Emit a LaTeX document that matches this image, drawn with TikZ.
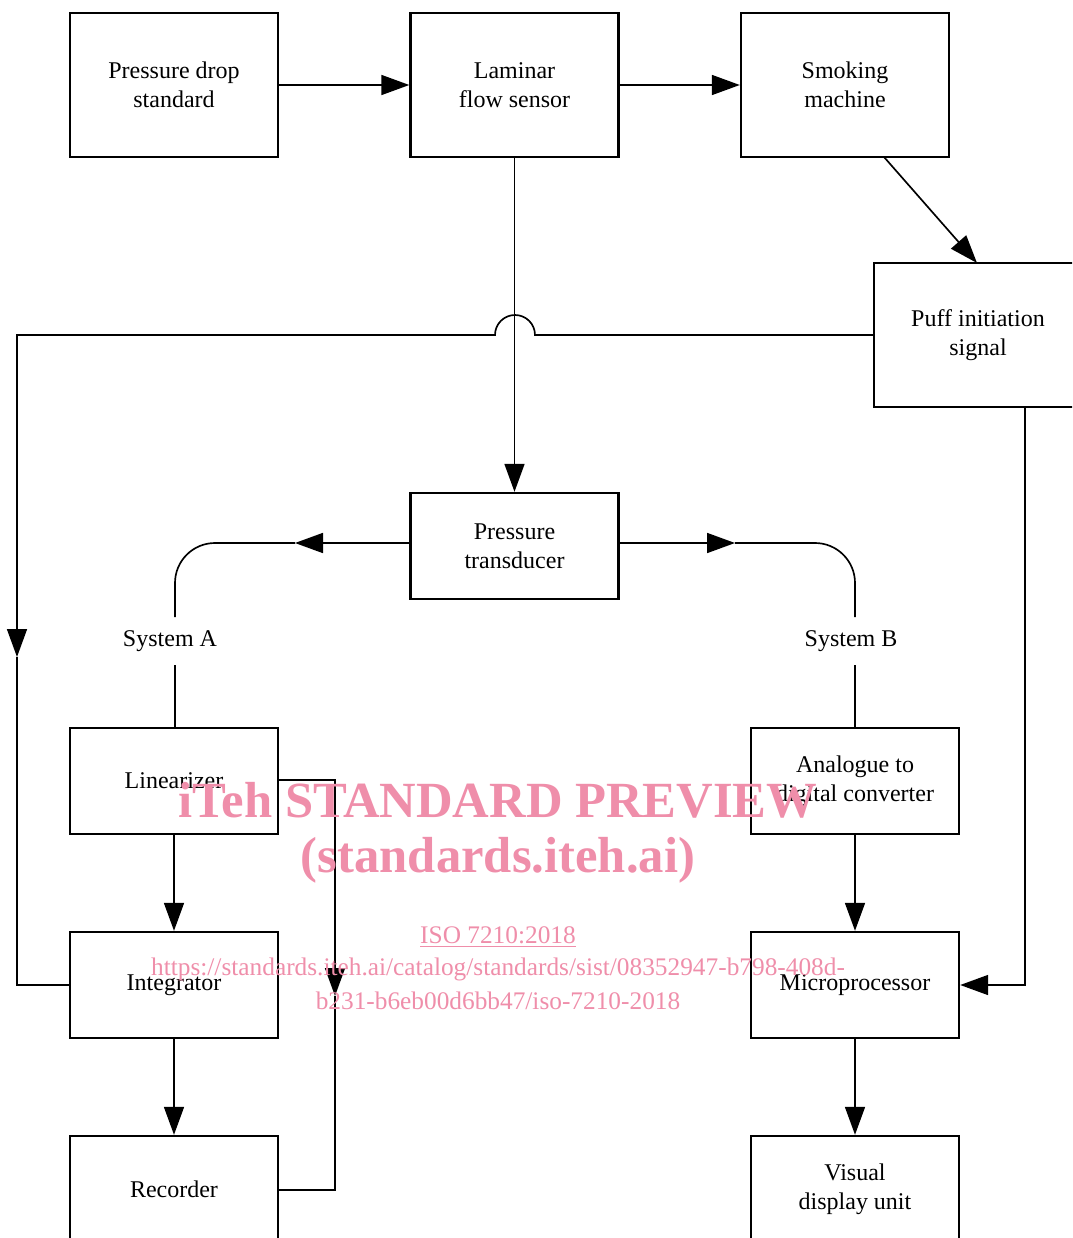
\documentclass[tikz,border=0pt]{standalone}
\usepackage{fontspec}
\setmainfont{Liberation Serif}
\usetikzlibrary{arrows.meta}
\definecolor{wm}{RGB}{239,142,170}
\tikzset{
  box/.style={draw, line width=1.8pt, minimum width=156pt, inner sep=0pt, align=center,
    font=\fontsize{18}{21.75}\selectfont},
  tall/.style={minimum height=108pt},
  short/.style={minimum height=79.5pt},
  conn/.style={line width=1.25pt},
  arr/.style={conn, -{Triangle[length=21pt,width=15pt]}},
  lbl/.style={font=\fontsize{18}{21.75}\selectfont, inner sep=0pt, minimum height=36pt},
  wmbig/.style={text=wm, font=\fontsize{38}{44}\bfseries\selectfont, inner sep=0pt},
  wmsmall/.style={text=wm, font=\fontsize{19}{24}\selectfont, inner sep=0pt}
}
\begin{document}
\begin{tikzpicture}[x=0.75pt,y=-0.75pt]
\useasboundingbox (0,0) rectangle (1072,1238);
\clip (0,0) rectangle (1072,1238);
% boxes
\node[box,tall] (pds) at (174,85) {Pressure drop\\standard};
\node[box,tall] (lfs) at (514.5,85) {Laminar\\flow sensor};
\node[box,tall] (sm) at (845,85) {Smoking\\machine};
\node[box,tall] (puff) at (978,335) {Puff initiation\\signal};
\node[box,short] (pt) at (514.5,546) {Pressure\\transducer};
\node[box,short] (lin) at (174,781) {Linearizer};
\node[box,short] (adc) at (855,781) {Analogue to\\digital converter};
\node[box,short] (integ) at (174,985) {Integrator};
\node[box,short] (micro) at (855,985) {Microprocessor};
\node[box,short] (rec) at (174,1189) {Recorder};
\node[box,short] (vdu) at (855,1189) {Visual\\display unit};
\node[lbl] (sysA) at (170,641) {System A};
\node[lbl] (sysB) at (851,641) {System B};
% connectors
\draw[arr] (pds.east) -- (lfs.west);
\draw[arr] (lfs.east) -- (sm.west);
\draw[arr] (884,157) -- (977,263);
\draw[arr] (lfs.south) -- (pt.north);
% puff -> integrator with hop
\draw[conn] (puff.west) -- (535,335) arc[start angle=0,end angle=180,radius=15pt] -- (17,335) -- (17,630);
\draw[arr] (17,600) -- (17,657);
\draw[conn] (17,657) -- (17,985) -- (integ.west);
% system A
\draw[arr] (pt.west |- 0,543) -- (295,543);
\draw[conn, rounded corners=30pt] (295,543) -- (175,543) -- (175,617);
\draw[conn] (175,665) -- (lin.north -| 175,0);
% system B
\draw[arr] (pt.east |- 0,543) -- (735,543);
\draw[conn, rounded corners=30pt] (735,543) -- (855,543) -- (855,617);
\draw[conn] (855,665) -- (adc.north);
% vertical chains
\draw[arr] (lin.south) -- (integ.north);
\draw[arr] (integ.south) -- (rec.north);
\draw[arr] (adc.south) -- (micro.north);
\draw[arr] (micro.south) -- (vdu.north);
% puff -> microprocessor
\draw[arr] (1025,406.5) -- (1025,985) -- (micro.east);
% linearizer -> recorder loop
\draw[conn] (lin.east |- 0,780) -- (335,780) -- (335,960);
\draw[arr] (335,950) -- (335,996);
\draw[conn] (335,996) -- (335,1190) -- (rec.east |- 0,1190);
% watermark
\node[wmbig] (w1) at (498,800) {iTeh STANDARD PREVIEW};
\node[wmbig] (w2) at (498,860) {(standards.iteh.ai)};
\node[wmsmall] (w3) at (498,937) {\underline{ISO 7210:2018}};
\node[wmsmall] (w4) at (498,969) {https://standards.iteh.ai/catalog/standards/sist/08352947-b798-408d-};
\node[wmsmall] (w5) at (498,1001) {b231-b6eb00d6bb47/iso-7210-2018};
\end{tikzpicture}
\end{document}
